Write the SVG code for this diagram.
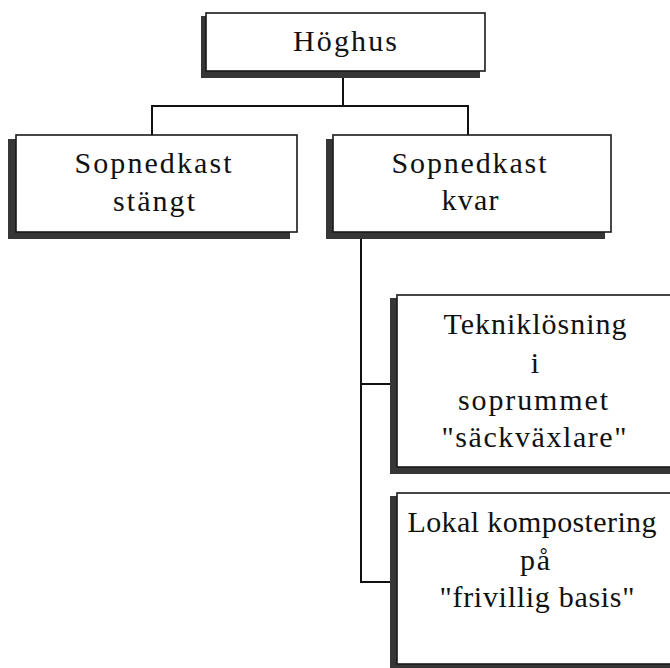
<svg xmlns="http://www.w3.org/2000/svg" width="670" height="668" viewBox="0 0 670 668">
<style>
.sh{fill:#363636}
.bx{fill:#fff;stroke:#1a1a1a;stroke-width:1.6}
.t{font-family:"Liberation Serif","Times New Roman",serif;font-size:30px;fill:#111;text-anchor:middle}
.c{fill:none;stroke:#111;stroke-width:2}
</style>
<rect width="670" height="668" fill="#fff"/>
<g id="connectors">
<path class="c" d="M343 78 V106"/>
<path class="c" d="M152 135 V106 H468 V135"/>
<path class="c" d="M361 239 V582 H390"/>
<path class="c" d="M361 384 H390"/>
</g>
<g id="hoghus">
<rect class="sh" x="201" y="16" width="279" height="62"/>
<rect class="bx" x="206" y="13" width="279" height="58"/>
<text class="t" x="345" y="51" textLength="104">Höghus</text>
</g>
<g id="stangt">
<rect class="sh" x="8" y="139" width="282" height="100"/>
<rect class="bx" x="16" y="135" width="281" height="97"/>
<text class="t" x="153" y="173" textLength="157">Sopnedkast</text>
<text class="t" x="154" y="211" textLength="82">stängt</text>
</g>
<g id="kvar">
<rect class="sh" x="326" y="139" width="279" height="100"/>
<rect class="bx" x="333" y="135" width="278" height="97"/>
<text class="t" x="469" y="173" textLength="155">Sopnedkast</text>
<text class="t" x="470" y="210" textLength="57">kvar</text>
</g>
<g id="teknik">
<rect class="sh" x="390" y="298" width="300" height="176"/>
<rect class="bx" x="397" y="295" width="290" height="172"/>
<text class="t" x="535" y="334" textLength="183">Tekniklösning</text>
<text class="t" x="535" y="373">i</text>
<text class="t" x="533" y="410" textLength="150">soprummet</text>
<text class="t" x="534" y="447" textLength="185">"säckväxlare"</text>
</g>
<g id="kompost">
<rect class="sh" x="390" y="496" width="300" height="180"/>
<rect class="bx" x="397" y="493" width="290" height="171"/>
<text class="t" x="532" y="532" textLength="249">Lokal kompostering</text>
<text class="t" x="535" y="570" textLength="30">på</text>
<text class="t" x="537" y="607" textLength="195">"frivillig basis"</text>
</g>
</svg>
